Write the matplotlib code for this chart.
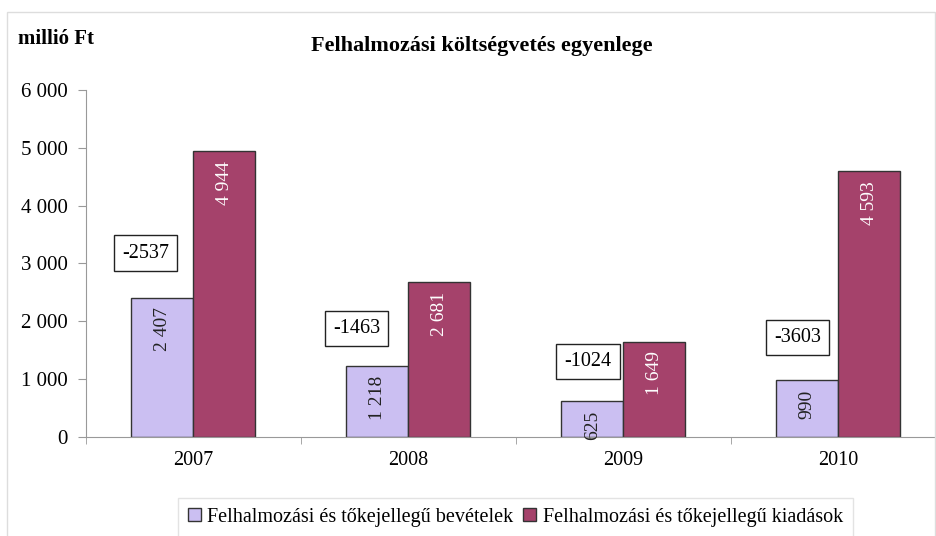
import numpy as np
import matplotlib
matplotlib.use("Agg")
import matplotlib.pyplot as plt
from matplotlib.ticker import FuncFormatter
from matplotlib.patches import Rectangle

plt.rcParams['font.family'] = ['Liberation Serif', 'DejaVu Serif']

# adatok
evek = ['2007', '2008', '2009', '2010']
bevetelek = [2407, 1218, 625, 990]
kiadasok = [4944, 2681, 1649, 4593]
# egyenleg dobozok helye (eltolas az evtol, magassag)
doboz_dx = [-0.22, -0.24, -0.163, -0.19]
doboz_y = [3180, 1870, 1300, 1715]

lila = '#cbbff2'
bordo = '#a5426b'

fig = plt.figure(figsize=(9.37, 5.36), dpi=100)
ax = fig.add_axes([0.0913, 0.185, 0.918, 0.647])

x = np.arange(len(evek))
w = 0.288
b1 = ax.bar(x - w / 2, bevetelek, w, color=lila, edgecolor='#333333', linewidth=1,
            label='Felhalmozási és tőkejellegű bevételek')
b2 = ax.bar(x + w / 2, kiadasok, w, color=bordo, edgecolor='#333333', linewidth=1,
            label='Felhalmozási és tőkejellegű kiadások')

def ezres(v):
    return f'{int(v):,}'.replace(',', ' ')

for i in range(len(evek)):
    ax.annotate(ezres(bevetelek[i]), (x[i] - w / 2, bevetelek[i]), xytext=(0, -7),
                textcoords='offset points', ha='center', va='top', rotation=90,
                fontsize=14, color='#222222')
    ax.annotate(ezres(kiadasok[i]), (x[i] + w / 2, kiadasok[i]), xytext=(0, -7),
                textcoords='offset points', ha='center', va='top', rotation=90,
                fontsize=14, color='white')
    kul = bevetelek[i] - kiadasok[i]
    ax.text(x[i] + doboz_dx[i], doboz_y[i], str(kul), ha='center', va='center', fontsize=14.5,
            bbox=dict(boxstyle='square,pad=0.4', facecolor='white', edgecolor='#222222', linewidth=1))

ax.set_xlim(-0.5, 3.5)
ax.set_ylim(0, 6000)
ax.set_yticks(range(0, 6001, 1000))
ax.yaxis.set_major_formatter(FuncFormatter(lambda v, p: ezres(v)))
ax.set_xticks(x)
ax.set_xticklabels(evek)
ax.set_xticks(np.arange(-0.5, 3.6, 1), minor=True)
ax.tick_params(axis='x', which='major', length=0, pad=10, labelsize=14.5)
ax.tick_params(axis='x', which='minor', length=5, color='#999999')
ax.tick_params(axis='y', length=6, color='#999999', labelsize=15, pad=7)
for s in ['top', 'right']:
    ax.spines[s].set_visible(False)
ax.spines['left'].set_color('#999999')
ax.spines['bottom'].set_color('#999999')

fig.text(0.019, 0.928, 'millió Ft', fontsize=15, fontweight='bold', va='center')
fig.text(0.514, 0.915, 'Felhalmozási költségvetés egyenlege', fontsize=16,
         fontweight='bold', ha='center', va='center')

leg = fig.legend(handles=[b1, b2], loc='center', bbox_to_anchor=(0.55, 0.035), ncol=2,
                 fontsize=14.5, frameon=True, fancybox=False, edgecolor='#dddddd',
                 handlelength=0.65, handleheight=0.65, handletextpad=0.3, columnspacing=0.5,
                 borderpad=0.5)

fig.patches.append(Rectangle((0.008, -0.01), 0.99, 0.988, transform=fig.transFigure,
                             fill=False, edgecolor='#dddddd', linewidth=1))

fig.savefig('out.png', dpi=100)
